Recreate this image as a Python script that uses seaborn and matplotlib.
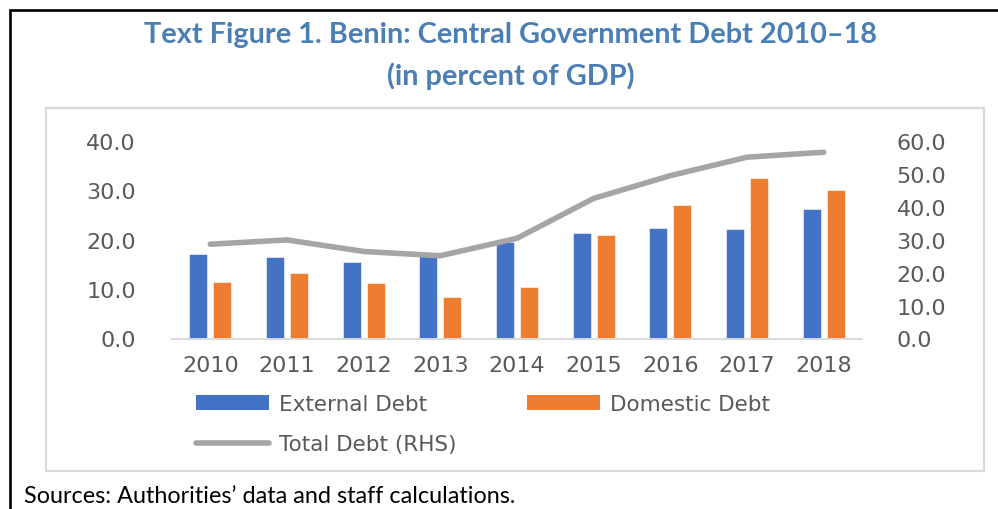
import numpy as np
import pandas as pd
import matplotlib
matplotlib.use("Agg")
import matplotlib.pyplot as plt
from matplotlib.lines import Line2D
from matplotlib.patches import Patch, Rectangle
import seaborn as sns

# Data (percent of GDP)
years = ["2010", "2011", "2012", "2013", "2014", "2015", "2016", "2017", "2018"]
external_debt = [17.1, 16.5, 15.4, 16.6, 19.5, 21.3, 22.4, 22.1, 26.2]
domestic_debt = [11.5, 13.2, 11.2, 8.4, 10.5, 21.0, 26.9, 32.5, 30.0]
total_debt = [28.6, 29.9, 26.4, 25.1, 30.4, 42.5, 49.4, 55.0, 56.5]
left_ticks = [0, 10, 20, 30, 40]
right_ticks = [0, 10, 20, 30, 40, 50, 60]

BLUE = "#4472C4"
ORANGE = "#ED7D31"
GRAY = "#A5A5A5"
TICK_COLOR = "#595959"
TITLE_COLOR = "#4A7EB5"
FRAME_GRAY = "#D9D9D9"

sns.set_theme(style="white")
plt.rcParams["font.family"] = ["DejaVu Sans"]

W, H = 998, 510
fig = plt.figure(figsize=(W / 100, H / 100), dpi=100)
fig.patch.set_facecolor("white")


def fx(px):
    return px / W


def fy(py):
    return 1 - py / H


# Outer frame (top and left rules) and inner chart box
fig.add_artist(Line2D([fx(10), fx(998)], [fy(11), fy(11)], color="black", lw=1.9))
fig.add_artist(Line2D([fx(10), fx(10)], [fy(11), fy(510)], color="black", lw=1.9))
fig.add_artist(Rectangle((fx(46), fy(472)), fx(984) - fx(46), fy(109) - fy(472),
                         transform=fig.transFigure, fill=False,
                         edgecolor=FRAME_GRAY, lw=1.6))

# Titles
fig.text(fx(511), fy(35), "Text Figure 1. Benin: Central Government Debt 2010\u201318",
         ha="center", va="center", fontsize=20.8, fontweight="bold",
         color=TITLE_COLOR, family=["Lato", "DejaVu Sans"])
fig.text(fx(511), fy(76), "(in percent of GDP)",
         ha="center", va="center", fontsize=20.8, fontweight="bold",
         color=TITLE_COLOR, family=["Lato", "DejaVu Sans"])

# Plot area
x0, x1 = 172, 862
y_top, y_bot = 141.7, 339.5
ax = fig.add_axes([fx(x0), fy(y_bot), fx(x1) - fx(x0), fy(y_top) - fy(y_bot)])
ax.set_facecolor("none")

df = pd.DataFrame({
    "Year": years * 2,
    "Value": external_debt + domestic_debt,
    "Series": ["External Debt"] * len(years) + ["Domestic Debt"] * len(years),
})
sns.barplot(data=df, x="Year", y="Value", hue="Series", order=years,
            hue_order=["External Debt", "Domestic Debt"],
            palette=[BLUE, ORANGE], width=0.626, gap=0.25,
            edgecolor="white", linewidth=0.4, ax=ax, legend=False, saturation=1)

ax.set_xlim(-0.5, len(years) - 0.5)
ax.set_ylim(0, 40)
ax.set_yticks(left_ticks)
ax.set_yticklabels([f"{v:.1f}" for v in left_ticks])
ax.set_xlabel("")
ax.set_ylabel("")
for s in ["top", "left", "right"]:
    ax.spines[s].set_visible(False)
ax.spines["bottom"].set_color(FRAME_GRAY)
ax.spines["bottom"].set_linewidth(1.4)
ax.tick_params(axis="y", length=0, pad=26, labelsize=16, labelcolor=TICK_COLOR)
ax.tick_params(axis="x", length=0, pad=12, labelsize=16, labelcolor=TICK_COLOR)

# Total debt on the right-hand scale
ax2 = ax.twinx()
sns.lineplot(x=np.arange(len(years)), y=total_debt, ax=ax2, color=GRAY,
             linewidth=4, solid_capstyle="round", solid_joinstyle="round")
ax2.set_ylim(0, 60)
ax2.set_yticks(right_ticks)
ax2.set_yticklabels([f"{v:.1f}" for v in right_ticks])
ax2.set_xlim(-0.5, len(years) - 0.5)
ax2.set_ylabel("")
for s in ["top", "left", "right", "bottom"]:
    ax2.spines[s].set_visible(False)
ax2.tick_params(axis="y", length=0, pad=25, labelsize=16, labelcolor=TICK_COLOR)
ax2.grid(False)
ax.grid(False)

# Legend
leg_kw = dict(frameon=False, fontsize=15.5, labelcolor=TICK_COLOR,
              handlelength=3.4, handleheight=0.7, handletextpad=0.45,
              borderpad=0, borderaxespad=0, labelspacing=0.95, loc="upper left")
h_ext = Patch(facecolor=BLUE, edgecolor="none")
h_tot = Line2D([0], [0], color=GRAY, lw=4, solid_capstyle="round")
h_dom = Patch(facecolor=ORANGE, edgecolor="none")
leg1 = fig.legend([h_ext, h_tot], ["External Debt", "Total Debt (RHS)"],
                  bbox_to_anchor=(fx(196), fy(395)), **leg_kw)
leg2 = fig.legend([h_dom], ["Domestic Debt"],
                  bbox_to_anchor=(fx(527), fy(395)), **leg_kw)

# Source note
fig.text(fx(24), fy(497), "Sources: Authorities\u2019 data and staff calculations.",
         ha="left", va="center", fontsize=16.8, color="black",
         family=["Lato", "DejaVu Sans"])

fig.savefig("out.png", dpi=100, facecolor="white")
